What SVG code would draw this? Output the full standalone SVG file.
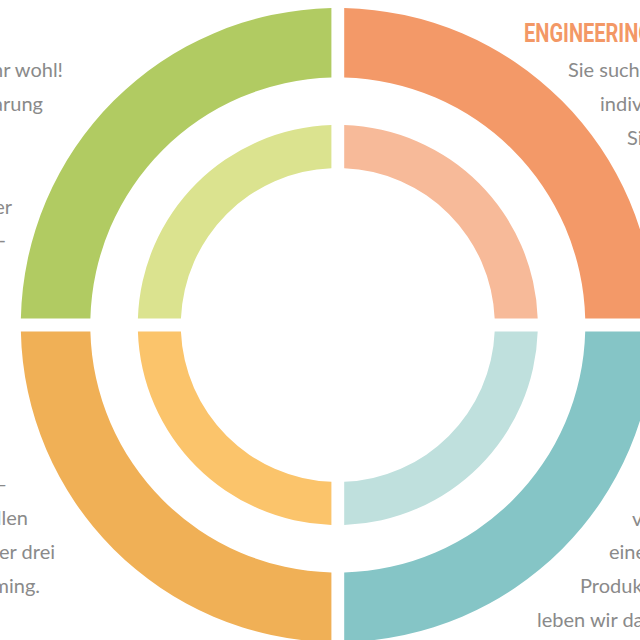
<svg xmlns="http://www.w3.org/2000/svg" width="640" height="640" viewBox="0 0 640 640">
  <style>
    .body { font-family: Lato, "Open Sans", sans-serif; font-size: 20px; fill: #8a8a8a; }
    .head { font-family: "Liberation Sans Narrow", Roboto, sans-serif; font-size: 25px; font-weight: bold; fill: #f39866; }
  </style>
  <rect width="640" height="640" fill="#ffffff"/>
  <g id="outer-ring">
    <path id="outer-tl" fill="#b1cb62" d="M 331.4 8.07 A 317 317 0 0 0 20.87 318.6 L 90.38 318.6 A 247.5 247.5 0 0 1 331.4 77.58 Z"/>
    <path id="outer-tr" fill="#f39968" d="M 344.2 8.07 A 317 317 0 0 1 654.74 318.6 L 585.22 318.6 A 247.5 247.5 0 0 0 344.2 77.58 Z"/>
    <path id="outer-bl" fill="#f0b056" d="M 20.87 331.4 A 317 317 0 0 0 331.4 641.94 L 331.4 572.42 A 247.5 247.5 0 0 1 90.38 331.4 Z"/>
    <path id="outer-br" fill="#85c5c6" d="M 344.2 641.94 A 317 317 0 0 0 654.74 331.4 L 585.22 331.4 A 247.5 247.5 0 0 1 344.2 572.42 Z"/>
  </g>
  <g id="inner-ring">
    <path id="inner-tl" fill="#dbe38f" d="M 331.4 125.1 A 200 200 0 0 0 137.9 318.6 L 180.93 318.6 A 157 157 0 0 1 331.4 168.13 Z"/>
    <path id="inner-tr" fill="#f7ba99" d="M 344.2 125.1 A 200 200 0 0 1 537.7 318.6 L 494.67 318.6 A 157 157 0 0 0 344.2 168.13 Z"/>
    <path id="inner-bl" fill="#fbc46b" d="M 137.9 331.4 A 200 200 0 0 0 331.4 524.9 L 331.4 481.87 A 157 157 0 0 1 180.93 331.4 Z"/>
    <path id="inner-br" fill="#bfe0dd" d="M 344.2 524.9 A 200 200 0 0 0 537.7 331.4 L 494.67 331.4 A 157 157 0 0 1 344.2 481.87 Z"/>
  </g>
  <g id="text-left-top" class="body" text-anchor="end">
    <text x="63" y="77">hr wohl!</text>
    <text x="43" y="111">arung</text>
    <text x="12" y="214">er</text>
    <text x="6" y="247">-</text>
  </g>
  <g id="text-left-bottom" class="body" text-anchor="end">
    <text x="7" y="491">–</text>
    <text x="28" y="525">llen</text>
    <text x="55" y="559">er drei</text>
    <text x="40" y="593">ming.</text>
  </g>
  <g id="text-right-top">
    <text class="head" x="524" y="42" textLength="128" lengthAdjust="spacingAndGlyphs">ENGINEERING</text>
    <text class="body" x="568" y="77">Sie such</text>
    <text class="body" x="600" y="111">indiv</text>
    <text class="body" x="627" y="145">Si</text>
  </g>
  <g id="text-right-bottom" class="body">
    <text x="632" y="526">v</text>
    <text x="609" y="559">eine</text>
    <text x="580" y="593">Produk</text>
    <text x="537" y="627">leben wir da</text>
  </g>
</svg>
